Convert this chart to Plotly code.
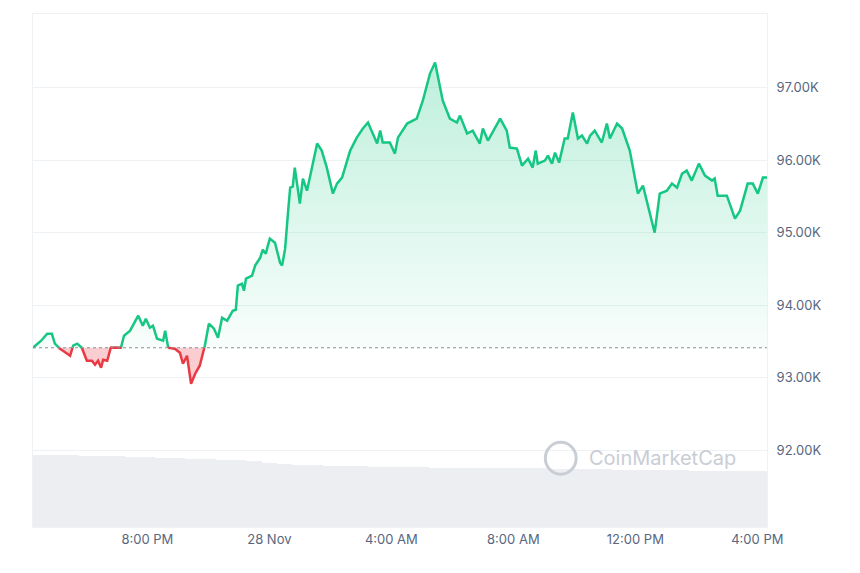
from datetime import datetime, timedelta

import plotly.graph_objects as go

START = datetime(2024, 11, 27, 16, 15)
BASELINE = 93414

# minutes since start, price in USD
minutes = [
    0, 10, 16, 28, 37, 43, 53, 59, 73, 79, 87, 96, 106, 116, 122, 128, 134, 138, 146, 153,
    167, 173, 179, 191, 207, 216, 222, 230, 236, 244, 256, 260, 266, 279, 289, 295, 303, 311, 319, 328,
    338, 346, 356, 364, 372, 382, 393, 399, 403, 411, 415, 419, 431, 437, 447, 452, 458, 462, 466, 476,
    486, 490, 496, 502, 506, 511, 515, 525, 531, 539, 545, 559, 568, 578, 590, 598, 608, 624, 637, 649,
    659, 677, 683, 688, 702, 712, 718, 736, 755, 767, 781, 791, 806, 820, 834, 840, 854, 865, 879, 885,
    895, 919, 932, 938, 952, 962, 974, 983, 989, 993, 1007, 1013, 1021, 1027, 1035, 1046, 1052, 1062, 1072, 1080,
    1090, 1096, 1105, 1119, 1129, 1135, 1149, 1159, 1174, 1190, 1200, 1223, 1233, 1247, 1257, 1267, 1277, 1286, 1296, 1310,
    1322, 1336, 1341, 1347, 1365, 1381, 1391, 1406, 1416, 1426, 1436, 1444,
]
prices = [
    93414, 93470, 93511, 93608, 93608, 93470, 93400, 93373, 93304, 93442, 93470, 93414, 93235, 93235, 93180, 93235, 93138, 93249, 93235, 93414,
    93414, 93414, 93580, 93649, 93856, 93718, 93815, 93690, 93718, 93539, 93511, 93649, 93414, 93400, 93345, 93193, 93304, 92917, 93055, 93166,
    93442, 93746, 93677, 93552, 93829, 93787, 93925, 93939, 94271, 94298, 94201, 94367, 94409, 94547, 94657, 94768, 94712, 94823, 94920, 94864,
    94588, 94547, 94781, 95306, 95624, 95638, 95900, 95403, 95748, 95582, 95790, 96232, 96135, 95900, 95541, 95679, 95762, 96135, 96314, 96439,
    96522, 96232, 96411, 96246, 96246, 96093, 96314, 96508, 96577, 96826, 97198, 97350, 96826, 96577, 96522, 96618, 96370, 96411, 96232, 96439,
    96273, 96577, 96411, 96176, 96163, 95928, 96024, 95900, 96135, 95955, 95997, 96066, 95955, 96107, 95969, 96301, 96301, 96660, 96301, 96342,
    96232, 96342, 96411, 96246, 96508, 96301, 96508, 96439, 96135, 95541, 95652, 95002, 95541, 95582, 95679, 95624, 95817, 95859, 95721, 95955,
    95790, 95721, 95748, 95513, 95513, 95196, 95306, 95679, 95679, 95541, 95762, 95762,
]

# volume bars every 30 min (billions)
volume = [
    72, 72, 72, 71, 71, 71, 70, 70, 69, 69, 68, 68, 67, 67, 66, 64, 63, 62, 62, 61,
    61, 61, 60, 60, 60, 60, 59, 59, 59, 59, 59, 59, 59, 59, 58, 58, 58, 58, 57, 57,
    57, 57, 57, 56, 56, 56, 56, 56, 56,
]

tick_times = [datetime(2024, 11, 27, 20), datetime(2024, 11, 28, 0), datetime(2024, 11, 28, 4),
              datetime(2024, 11, 28, 8), datetime(2024, 11, 28, 12), datetime(2024, 11, 28, 16)]
tick_text = ["8:00 PM", "28 Nov", "4:00 AM", "8:00 AM", "12:00 PM", "4:00 PM"]
price_ticks = [92000, 93000, 94000, 95000, 96000, 97000]
price_labels = ["92.00K", "93.00K", "94.00K", "95.00K", "96.00K", "97.00K"]

GREEN = "#16c784"
RED = "#ea3943"


def split_at_baseline(ts, ys, base):
    # add crossing points so the colour switch happens exactly at the baseline
    out_t, out_y = [ts[0]], [ys[0]]
    for i in range(1, len(ys)):
        y0, y1 = ys[i - 1], ys[i]
        if (y0 - base) * (y1 - base) < 0:
            f = (base - y0) / (y1 - y0)
            out_t.append(ts[i - 1] + (ts[i] - ts[i - 1]) * f)
            out_y.append(base)
        out_t.append(ts[i])
        out_y.append(ys[i])
    return out_t, out_y


times = [START + timedelta(minutes=m) for m in minutes]
t, y = split_at_baseline(times, prices, BASELINE)
up = [v if v >= BASELINE else None for v in y]
down = [v if v <= BASELINE else None for v in y]
up_fill = [max(v, BASELINE) for v in y]
down_fill = [min(v, BASELINE) for v in y]

fig = go.Figure()

vol_times = [START + timedelta(minutes=15 + 30 * i) for i in range(len(volume))]
fig.add_trace(go.Bar(x=vol_times, y=volume, yaxis="y2", marker_color="#eceef2",
                     marker_line_width=0, width=30 * 60 * 1000, hoverinfo="skip"))

fig.add_trace(go.Scatter(x=t, y=[BASELINE] * len(t), mode="lines", line_width=0, hoverinfo="skip"))
fig.add_trace(go.Scatter(
    x=t, y=up_fill, mode="lines", line_width=0, fill="tonexty",
    fillgradient=dict(type="vertical", colorscale=[[0, "rgba(22,199,132,0.03)"], [1, "rgba(22,199,132,0.28)"]]),
    hoverinfo="skip"))
fig.add_trace(go.Scatter(x=t, y=[BASELINE] * len(t), mode="lines", line_width=0, hoverinfo="skip"))
fig.add_trace(go.Scatter(x=t, y=down_fill, mode="lines", line_width=0, fill="tonexty",
                         fillcolor="rgba(234,57,67,0.25)", hoverinfo="skip"))

fig.add_trace(go.Scatter(x=t, y=up, mode="lines", line=dict(color=GREEN, width=2.5)))
fig.add_trace(go.Scatter(x=t, y=down, mode="lines", line=dict(color=RED, width=2.5)))

fig.add_hline(y=BASELINE, line=dict(color="#8a8f98", width=1.2, dash="dot"))

fig.add_shape(type="circle", xref="paper", yref="paper", x0=0.698, x1=0.74, y0=0.103, y1=0.165,
              line=dict(color="#c9cdd4", width=3))
fig.add_annotation(text="CoinMarketCap", xref="paper", yref="paper", x=0.755, y=0.134,
                   xanchor="left", yanchor="middle", showarrow=False,
                   font=dict(family="Inter", size=20, color="#c9cdd4"))

fig.update_layout(
    width=852, height=565, showlegend=False,
    margin=dict(l=25, r=93, t=6, b=46),
    plot_bgcolor="white", paper_bgcolor="white",
    font=dict(family="Inter", size=13, color="#58667e"),
    xaxis=dict(range=[START, START + timedelta(minutes=1444)], tickvals=tick_times, ticktext=tick_text,
               showgrid=False, showline=True, linecolor="#eff2f5", mirror=True, ticks=""),
    yaxis=dict(side="right", range=[90940, 98020], tickvals=price_ticks, ticktext=price_labels,
               showgrid=True, gridcolor="#eff2f5", zeroline=False, ticklabelstandoff=6,
               showline=True, linecolor="#eff2f5", mirror=True, ticklen=0),
    yaxis2=dict(overlaying="y", range=[0, 513], visible=False),
    bargap=0,
)

fig.write_html("out.html")
